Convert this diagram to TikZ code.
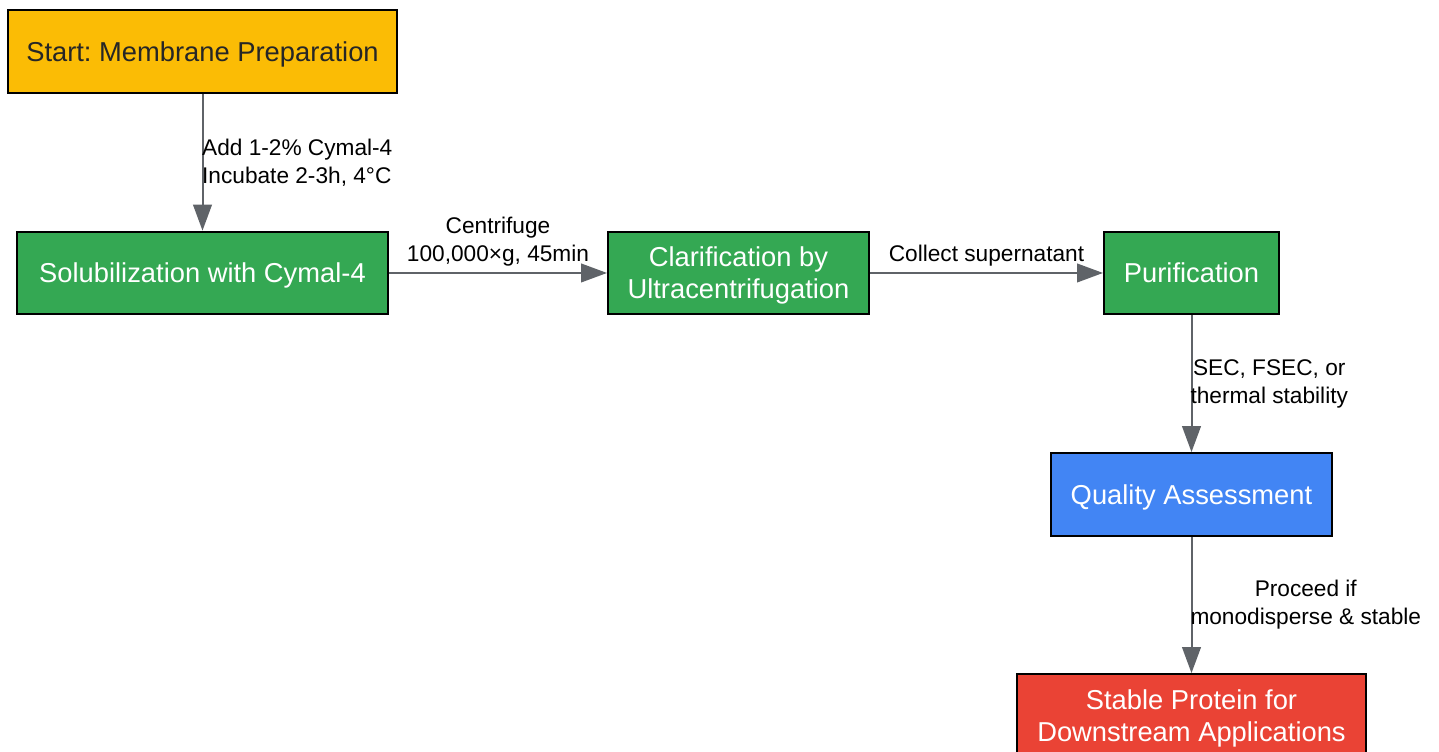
\documentclass[tikz,border=0pt]{standalone}
\usepackage{fontspec}
\setmainfont{Liberation Sans}
\usetikzlibrary{arrows.meta}
\definecolor{startyellow}{HTML}{FBBC05}
\definecolor{stepgreen}{HTML}{34A853}
\definecolor{checkblue}{HTML}{4285F4}
\definecolor{endred}{HTML}{EA4335}
\definecolor{arrowgray}{HTML}{5F6368}
\frenchspacing

\begin{document}
\begin{tikzpicture}[->,>={Triangle[length=19.5pt,width=14pt]},line width=1.5pt,
                    every edge/.style={draw=arrowgray,line width=1.5pt},
                    box node/.style={rectangle,draw=black,line width=1.5pt,inner sep=0pt,
                                     minimum height=62pt,align=center,text=white,text depth=0pt,
                                     font=\fontsize{20.5}{24}\selectfont}]
                \useasboundingbox (0,0) rectangle (1079.25pt,-563.25pt);
                \node[box node,fill=startyellow,text=black!85,minimum width=291.75pt] (start) at (151.875pt,-38.625pt) {Start: Membrane Preparation};
                \node[box node,fill=stepgreen,minimum width=278.25pt] (sol) [below of=start,node distance=166.1pt] {Solubilization with Cymal-4};
                \node[box node,fill=stepgreen,minimum width=195.75pt] (clar) [right of=sol,node distance=402pt] {Clarification by\\Ultracentrifugation};
                \node[box node,fill=stepgreen,minimum width=131.25pt] (pur) [right of=clar,node distance=339.75pt] {Purification};
                \node[box node,fill=checkblue,minimum width=210.75pt] (qa) [below of=pur,node distance=166.1pt] {Quality Assessment};
                \node[box node,fill=endred,minimum width=261.75pt] (final) [below of=qa,node distance=165.75pt] {Stable Protein for\\Downstream Applications};
                \path[every node/.style={text=black,inner sep=0pt,font=\fontsize{17}{21}\selectfont}]
                    (start)
                    edge node [right=-1pt,align=left] {Add 1-2\% Cymal-4\\Incubate 2-3h, 4°C} (sol)

                    (sol)
                    edge node [above=4.5pt,align=center] {Centrifuge\\100,000×g, 45min} (clar)

                    (clar)
                    edge node [above=4.5pt] {Collect supernatant} (pur)

                    (pur)
                    edge node [right=-1.5pt,align=center] {SEC, FSEC, or\\thermal stability} (qa)

                    (qa)
                    edge node [right=-1.5pt,align=center] {Proceed if\\monodisperse \& stable} (final);
                \end{tikzpicture}
\end{document}
